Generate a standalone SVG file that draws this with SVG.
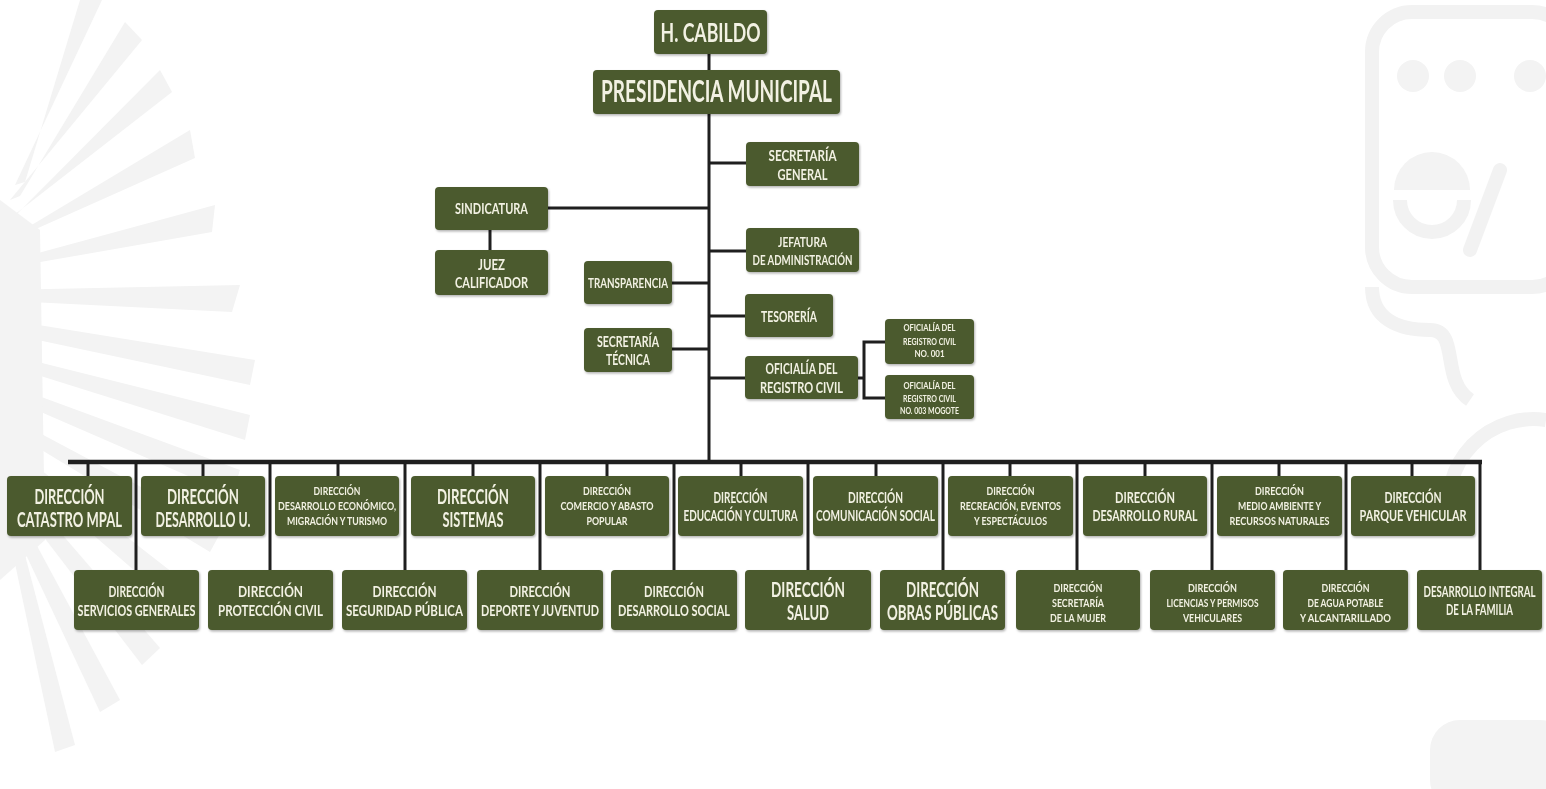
<svg xmlns="http://www.w3.org/2000/svg" width="1546" height="789" viewBox="0 0 1546 789">
<defs>
<style>
.box{fill:#4b5a2d}
.t{font-family:Lato,"Liberation Sans",sans-serif;font-weight:700;fill:#f2f1e3;text-anchor:middle}
.s30{font-size:30px}.s26{font-size:26px}.s20{font-size:20px}.s16{font-size:16px}.s15{font-size:15px}.s14{font-size:14px}.s12{font-size:12px}.s9{font-size:9px}
.c{stroke:#1f1f1f;stroke-width:3;fill:none}
.bus{stroke:#1f1f1f;stroke-width:4.5;fill:none}
.wm{fill:#f3f3f3}
.wms{fill:none;stroke:#f2f2f2;stroke-width:14}
</style>
<filter id="sh" x="-10%" y="-10%" width="120%" height="130%">
<feDropShadow dx="1" dy="1.5" stdDeviation="1.2" flood-color="#000" flood-opacity="0.3"/>
</filter>
</defs>
<rect width="1546" height="789" fill="#ffffff"/>
<g id="watermark">
<g class="wm">
<polygon points="-10,330 -5,318 255,360 250,385"/>
<polygon points="-8,300 0,290 240,285 232,312"/>
<polygon points="-5,270 5,262 215,205 212,232"/>
<polygon points="0,245 10,238 190,130 195,158"/>
<polygon points="5,222 15,216 160,70 172,92"/>
<polygon points="10,200 20,196 125,22 142,40"/>
<polygon points="15,185 25,182 80,0 102,0"/>
<polygon points="-10,360 -10,350 250,415 245,440"/>
<polygon points="-10,390 -5,380 240,470 232,495"/>
<polygon points="-8,420 0,412 222,530 210,552"/>
<polygon points="-5,450 5,442 195,590 180,610"/>
<polygon points="0,480 10,474 160,648 142,665"/>
<polygon points="5,510 15,505 120,700 100,712"/>
<polygon points="10,540 20,536 75,745 55,752"/>
<polygon points="0,200 40,230 45,540 0,580"/>
</g>
<rect class="wms" x="1372" y="12" width="200" height="275" rx="40"/>
<circle class="wm" cx="1413" cy="76" r="16"/>
<circle class="wm" cx="1460" cy="76" r="16"/>
<circle class="wm" cx="1530" cy="76" r="16"/>
<path class="wm" d="M1394,190 A38,38 0 0 1 1470,190 Z"/>
<path class="wms" d="M1400,200 A32,32 0 0 0 1464,200"/>
<path class="wms" d="M1500,170 L1470,250" stroke-linecap="round"/>
<path class="wms" d="M1372,287 C1372,320 1400,330 1430,330 C1460,330 1440,380 1470,400"/>
<path class="wms" d="M1450,520 A85,85 0 0 1 1546,420"/>
<rect class="wm" x="1430" y="720" width="140" height="90" rx="30"/>
</g>
<g id="connectors">
<line class="c" x1="709" y1="54" x2="709" y2="70"/>
<line class="c" x1="709" y1="114" x2="709" y2="462"/>
<line class="c" x1="709" y1="163" x2="746" y2="163"/>
<line class="c" x1="548" y1="208" x2="709" y2="208"/>
<line class="c" x1="490" y1="230" x2="490" y2="250"/>
<line class="c" x1="709" y1="251" x2="746" y2="251"/>
<line class="c" x1="672" y1="283" x2="709" y2="283"/>
<line class="c" x1="709" y1="316" x2="745" y2="316"/>
<line class="c" x1="672" y1="349" x2="709" y2="349"/>
<line class="c" x1="709" y1="378" x2="745" y2="378"/>
<line class="c" x1="858" y1="378" x2="864" y2="378"/>
<polyline class="c" points="885,342 864,342 864,398 885,398"/>
<line class="bus" x1="68" y1="462" x2="1482" y2="462"/>
<g>
<line class="c" x1="88" y1="462" x2="88" y2="476"/>
<line class="c" x1="203" y1="462" x2="203" y2="476"/>
<line class="c" x1="338" y1="462" x2="338" y2="476"/>
<line class="c" x1="473" y1="462" x2="473" y2="476"/>
<line class="c" x1="607" y1="462" x2="607" y2="476"/>
<line class="c" x1="741" y1="462" x2="741" y2="476"/>
<line class="c" x1="876" y1="462" x2="876" y2="476"/>
<line class="c" x1="1010" y1="462" x2="1010" y2="476"/>
<line class="c" x1="1145" y1="462" x2="1145" y2="476"/>
<line class="c" x1="1279" y1="462" x2="1279" y2="476"/>
<line class="c" x1="1412" y1="462" x2="1412" y2="476"/>
</g>
<g>
<line class="c" x1="136" y1="462" x2="136" y2="570"/>
<line class="c" x1="270" y1="462" x2="270" y2="570"/>
<line class="c" x1="405" y1="462" x2="405" y2="570"/>
<line class="c" x1="540" y1="462" x2="540" y2="570"/>
<line class="c" x1="674" y1="462" x2="674" y2="570"/>
<line class="c" x1="808" y1="462" x2="808" y2="570"/>
<line class="c" x1="943" y1="462" x2="943" y2="570"/>
<line class="c" x1="1077" y1="462" x2="1077" y2="570"/>
<line class="c" x1="1212" y1="462" x2="1212" y2="570"/>
<line class="c" x1="1346" y1="462" x2="1346" y2="570"/>
<line class="c" x1="1480" y1="462" x2="1480" y2="570"/>
</g>
</g>
<g id="nodes" filter="url(#sh)">
<g id="n-cabildo"><rect class="box" x="654" y="10" width="113" height="44" rx="4"/><g transform="translate(710.5 0) scale(0.7 1)"><text class="t s26" x="0" y="42" textLength="142.9" lengthAdjust="spacingAndGlyphs">H. CABILDO</text></g></g>
<g id="n-presidencia"><rect class="box" x="593" y="70" width="247" height="44" rx="4"/><g transform="translate(716.5 0) scale(0.7 1)"><text class="t s30" x="0" y="102" textLength="330" lengthAdjust="spacingAndGlyphs">PRESIDENCIA MUNICIPAL</text></g></g>
<g id="n-secgeneral"><rect class="box" x="746" y="142" width="113" height="44" rx="4"/><g transform="translate(802.5 0) scale(0.7 1)"><text class="t s15" x="0" y="161" textLength="97.1" lengthAdjust="spacingAndGlyphs">SECRETARÍA</text><text class="t s15" x="0" y="180" textLength="71.4" lengthAdjust="spacingAndGlyphs">GENERAL</text></g></g>
<g id="n-sindicatura"><rect class="box" x="435" y="187" width="113" height="43" rx="4"/><g transform="translate(491.5 0) scale(0.7 1)"><text class="t s15" x="0" y="214" textLength="104.3" lengthAdjust="spacingAndGlyphs">SINDICATURA</text></g></g>
<g id="n-juez"><rect class="box" x="435" y="250" width="113" height="45" rx="4"/><g transform="translate(491.5 0) scale(0.7 1)"><text class="t s15" x="0" y="270" textLength="38.6" lengthAdjust="spacingAndGlyphs">JUEZ</text><text class="t s15" x="0" y="288" textLength="104.3" lengthAdjust="spacingAndGlyphs">CALIFICADOR</text></g></g>
<g id="n-jefatura"><rect class="box" x="746" y="228" width="113" height="44" rx="4"/><g transform="translate(802.5 0) scale(0.7 1)"><text class="t s14" x="0" y="247" textLength="70" lengthAdjust="spacingAndGlyphs">JEFATURA</text><text class="t s14" x="0" y="265" textLength="142.9" lengthAdjust="spacingAndGlyphs">DE ADMINISTRACIÓN</text></g></g>
<g id="n-transparencia"><rect class="box" x="584" y="261" width="88" height="43" rx="4"/><g transform="translate(628 0) scale(0.7 1)"><text class="t s14" x="0" y="288" textLength="114.3" lengthAdjust="spacingAndGlyphs">TRANSPARENCIA</text></g></g>
<g id="n-tesoreria"><rect class="box" x="745" y="294" width="88" height="43" rx="4"/><g transform="translate(789 0) scale(0.7 1)"><text class="t s15" x="0" y="322" textLength="80" lengthAdjust="spacingAndGlyphs">TESORERÍA</text></g></g>
<g id="n-sectecnica"><rect class="box" x="584" y="328" width="88" height="44" rx="4"/><g transform="translate(628 0) scale(0.7 1)"><text class="t s15" x="0" y="347" textLength="88.6" lengthAdjust="spacingAndGlyphs">SECRETARÍA</text><text class="t s15" x="0" y="365" textLength="62.9" lengthAdjust="spacingAndGlyphs">TÉCNICA</text></g></g>
<g id="n-oficialia"><rect class="box" x="745" y="356" width="113" height="43" rx="4"/><g transform="translate(801.5 0) scale(0.7 1)"><text class="t s15" x="0" y="374" textLength="102.9" lengthAdjust="spacingAndGlyphs">OFICIALÍA DEL</text><text class="t s15" x="0" y="393" textLength="118.6" lengthAdjust="spacingAndGlyphs">REGISTRO CIVIL</text></g></g>
<g id="n-of001"><rect class="box" x="885" y="319" width="89" height="45" rx="4"/><g transform="translate(929.5 0) scale(0.7 1)"><text class="t s9" x="0" y="331" textLength="74.3" lengthAdjust="spacingAndGlyphs">OFICIALÍA DEL</text><text class="t s9" x="0" y="345" textLength="75.7" lengthAdjust="spacingAndGlyphs">REGISTRO CIVIL</text><text class="t s9" x="0" y="357" textLength="42.9" lengthAdjust="spacingAndGlyphs">NO. 001</text></g></g>
<g id="n-of003"><rect class="box" x="885" y="375" width="89" height="44" rx="4"/><g transform="translate(929.5 0) scale(0.7 1)"><text class="t s9" x="0" y="389" textLength="74.3" lengthAdjust="spacingAndGlyphs">OFICIALÍA DEL</text><text class="t s9" x="0" y="402" textLength="75.7" lengthAdjust="spacingAndGlyphs">REGISTRO CIVIL</text><text class="t s9" x="0" y="414" textLength="84.3" lengthAdjust="spacingAndGlyphs">NO. 003 MOGOTE</text></g></g>

<g id="n-catastro"><rect class="box" x="7" y="476" width="125" height="60" rx="4"/><g transform="translate(69.5 0) scale(0.7 1)"><text class="t s20" x="0" y="504" textLength="100" lengthAdjust="spacingAndGlyphs">DIRECCIÓN</text><text class="t s20" x="0" y="527" textLength="150" lengthAdjust="spacingAndGlyphs">CATASTRO MPAL</text></g></g>
<g id="n-desarrollou"><rect class="box" x="141" y="476" width="124" height="60" rx="4"/><g transform="translate(203 0) scale(0.7 1)"><text class="t s20" x="0" y="504" textLength="102.9" lengthAdjust="spacingAndGlyphs">DIRECCIÓN</text><text class="t s20" x="0" y="527" textLength="135.7" lengthAdjust="spacingAndGlyphs">DESARROLLO U.</text></g></g>
<g id="n-deseconomico"><rect class="box" x="275" y="476" width="124" height="60" rx="4"/><g transform="translate(337 0) scale(0.7 1)"><text class="t s12" x="0" y="495" textLength="67.1" lengthAdjust="spacingAndGlyphs">DIRECCIÓN</text><text class="t s12" x="0" y="510" textLength="168.6" lengthAdjust="spacingAndGlyphs">DESARROLLO ECONÓMICO,</text><text class="t s12" x="0" y="525" textLength="142.9" lengthAdjust="spacingAndGlyphs">MIGRACIÓN Y TURISMO</text></g></g>
<g id="n-sistemas"><rect class="box" x="411" y="476" width="124" height="60" rx="4"/><g transform="translate(473 0) scale(0.7 1)"><text class="t s20" x="0" y="504" textLength="102.9" lengthAdjust="spacingAndGlyphs">DIRECCIÓN</text><text class="t s20" x="0" y="527" textLength="87.1" lengthAdjust="spacingAndGlyphs">SISTEMAS</text></g></g>
<g id="n-comercio"><rect class="box" x="545" y="476" width="124" height="60" rx="4"/><g transform="translate(607 0) scale(0.7 1)"><text class="t s12" x="0" y="495" textLength="68.6" lengthAdjust="spacingAndGlyphs">DIRECCIÓN</text><text class="t s12" x="0" y="510" textLength="132.9" lengthAdjust="spacingAndGlyphs">COMERCIO Y ABASTO</text><text class="t s12" x="0" y="525" textLength="58.6" lengthAdjust="spacingAndGlyphs">POPULAR</text></g></g>
<g id="n-educacion"><rect class="box" x="678" y="476" width="125" height="60" rx="4"/><g transform="translate(740.5 0) scale(0.7 1)"><text class="t s15" x="0" y="503" textLength="77.1" lengthAdjust="spacingAndGlyphs">DIRECCIÓN</text><text class="t s15" x="0" y="521" textLength="162.9" lengthAdjust="spacingAndGlyphs">EDUCACIÓN Y CULTURA</text></g></g>
<g id="n-comunicacion"><rect class="box" x="813" y="476" width="125" height="60" rx="4"/><g transform="translate(875.5 0) scale(0.7 1)"><text class="t s15" x="0" y="503" textLength="78.6" lengthAdjust="spacingAndGlyphs">DIRECCIÓN</text><text class="t s15" x="0" y="521" textLength="170" lengthAdjust="spacingAndGlyphs">COMUNICACIÓN SOCIAL</text></g></g>
<g id="n-recreacion"><rect class="box" x="948" y="476" width="125" height="60" rx="4"/><g transform="translate(1010.5 0) scale(0.7 1)"><text class="t s12" x="0" y="495" textLength="68.6" lengthAdjust="spacingAndGlyphs">DIRECCIÓN</text><text class="t s12" x="0" y="510" textLength="144.3" lengthAdjust="spacingAndGlyphs">RECREACIÓN, EVENTOS</text><text class="t s12" x="0" y="525" textLength="104.3" lengthAdjust="spacingAndGlyphs">Y ESPECTÁCULOS</text></g></g>
<g id="n-rural"><rect class="box" x="1083" y="476" width="124" height="60" rx="4"/><g transform="translate(1145 0) scale(0.7 1)"><text class="t s15" x="0" y="503" textLength="85.7" lengthAdjust="spacingAndGlyphs">DIRECCIÓN</text><text class="t s15" x="0" y="521" textLength="150" lengthAdjust="spacingAndGlyphs">DESARROLLO RURAL</text></g></g>
<g id="n-medioambiente"><rect class="box" x="1217" y="476" width="125" height="60" rx="4"/><g transform="translate(1279.5 0) scale(0.7 1)"><text class="t s12" x="0" y="495" textLength="70" lengthAdjust="spacingAndGlyphs">DIRECCIÓN</text><text class="t s12" x="0" y="510" textLength="118.6" lengthAdjust="spacingAndGlyphs">MEDIO AMBIENTE Y</text><text class="t s12" x="0" y="525" textLength="142.9" lengthAdjust="spacingAndGlyphs">RECURSOS NATURALES</text></g></g>
<g id="n-parque"><rect class="box" x="1351" y="476" width="124" height="60" rx="4"/><g transform="translate(1413 0) scale(0.7 1)"><text class="t s15" x="0" y="503" textLength="81.4" lengthAdjust="spacingAndGlyphs">DIRECCIÓN</text><text class="t s15" x="0" y="521" textLength="152.9" lengthAdjust="spacingAndGlyphs">PARQUE VEHICULAR</text></g></g>

<g id="n-servicios"><rect class="box" x="74" y="570" width="125" height="60" rx="4"/><g transform="translate(136.5 0) scale(0.7 1)"><text class="t s15" x="0" y="597" textLength="80" lengthAdjust="spacingAndGlyphs">DIRECCIÓN</text><text class="t s15" x="0" y="616" textLength="168.6" lengthAdjust="spacingAndGlyphs">SERVICIOS GENERALES</text></g></g>
<g id="n-proteccion"><rect class="box" x="208" y="570" width="125" height="60" rx="4"/><g transform="translate(270.5 0) scale(0.7 1)"><text class="t s16" x="0" y="597" textLength="92.9" lengthAdjust="spacingAndGlyphs">DIRECCIÓN</text><text class="t s16" x="0" y="616" textLength="150" lengthAdjust="spacingAndGlyphs">PROTECCIÓN CIVIL</text></g></g>
<g id="n-seguridad"><rect class="box" x="342" y="570" width="125" height="60" rx="4"/><g transform="translate(404.5 0) scale(0.7 1)"><text class="t s16" x="0" y="597" textLength="91.4" lengthAdjust="spacingAndGlyphs">DIRECCIÓN</text><text class="t s16" x="0" y="616" textLength="167.1" lengthAdjust="spacingAndGlyphs">SEGURIDAD PÚBLICA</text></g></g>
<g id="n-deporte"><rect class="box" x="477" y="570" width="126" height="60" rx="4"/><g transform="translate(540 0) scale(0.7 1)"><text class="t s15" x="0" y="597" textLength="87.1" lengthAdjust="spacingAndGlyphs">DIRECCIÓN</text><text class="t s15" x="0" y="616" textLength="168.6" lengthAdjust="spacingAndGlyphs">DEPORTE Y JUVENTUD</text></g></g>
<g id="n-dessocial"><rect class="box" x="611" y="570" width="126" height="60" rx="4"/><g transform="translate(674 0) scale(0.7 1)"><text class="t s15" x="0" y="597" textLength="85.7" lengthAdjust="spacingAndGlyphs">DIRECCIÓN</text><text class="t s15" x="0" y="616" textLength="160" lengthAdjust="spacingAndGlyphs">DESARROLLO SOCIAL</text></g></g>
<g id="n-salud"><rect class="box" x="745" y="570" width="126" height="60" rx="4"/><g transform="translate(808 0) scale(0.7 1)"><text class="t s20" x="0" y="597" textLength="105.7" lengthAdjust="spacingAndGlyphs">DIRECCIÓN</text><text class="t s20" x="0" y="620" textLength="60" lengthAdjust="spacingAndGlyphs">SALUD</text></g></g>
<g id="n-obras"><rect class="box" x="880" y="570" width="125" height="60" rx="4"/><g transform="translate(942.5 0) scale(0.7 1)"><text class="t s20" x="0" y="597" textLength="104.3" lengthAdjust="spacingAndGlyphs">DIRECCIÓN</text><text class="t s20" x="0" y="620" textLength="158.6" lengthAdjust="spacingAndGlyphs">OBRAS PÚBLICAS</text></g></g>
<g id="n-mujer"><rect class="box" x="1016" y="570" width="124" height="60" rx="4"/><g transform="translate(1078 0) scale(0.7 1)"><text class="t s12" x="0" y="592" textLength="70" lengthAdjust="spacingAndGlyphs">DIRECCIÓN</text><text class="t s12" x="0" y="607" textLength="74.3" lengthAdjust="spacingAndGlyphs">SECRETARÍA</text><text class="t s12" x="0" y="622" textLength="80" lengthAdjust="spacingAndGlyphs">DE LA MUJER</text></g></g>
<g id="n-licencias"><rect class="box" x="1150" y="570" width="125" height="60" rx="4"/><g transform="translate(1212.5 0) scale(0.7 1)"><text class="t s12" x="0" y="592" textLength="70" lengthAdjust="spacingAndGlyphs">DIRECCIÓN</text><text class="t s12" x="0" y="607" textLength="131.4" lengthAdjust="spacingAndGlyphs">LICENCIAS Y PERMISOS</text><text class="t s12" x="0" y="622" textLength="84.3" lengthAdjust="spacingAndGlyphs">VEHICULARES</text></g></g>
<g id="n-agua"><rect class="box" x="1283" y="570" width="125" height="60" rx="4"/><g transform="translate(1345.5 0) scale(0.7 1)"><text class="t s12" x="0" y="592" textLength="68.6" lengthAdjust="spacingAndGlyphs">DIRECCIÓN</text><text class="t s12" x="0" y="607" textLength="108.6" lengthAdjust="spacingAndGlyphs">DE AGUA POTABLE</text><text class="t s12" x="0" y="622" textLength="130" lengthAdjust="spacingAndGlyphs">Y ALCANTARILLADO</text></g></g>
<g id="n-dif"><rect class="box" x="1417" y="570" width="125" height="60" rx="4"/><g transform="translate(1479.5 0) scale(0.7 1)"><text class="t s15" x="0" y="597" textLength="160" lengthAdjust="spacingAndGlyphs">DESARROLLO INTEGRAL</text><text class="t s15" x="0" y="615" textLength="95.7" lengthAdjust="spacingAndGlyphs">DE LA FAMILIA</text></g></g>
</g>
</svg>
